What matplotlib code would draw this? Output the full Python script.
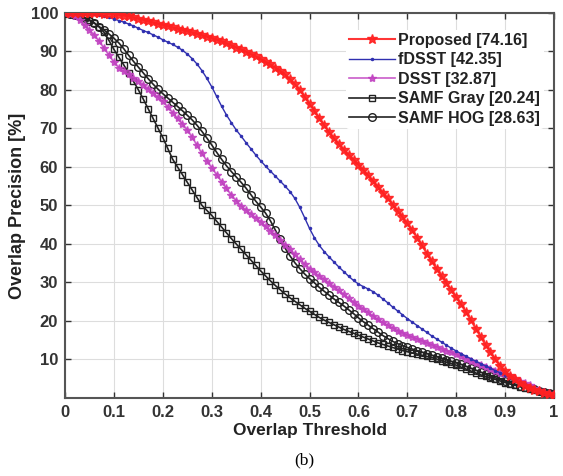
import matplotlib
matplotlib.use("Agg")
import matplotlib.pyplot as plt
import numpy as np

# overlap thresholds 0:0.01:1
thresholds = np.round(np.arange(0, 101) / 100, 2)

proposed = [
    100, 100, 100, 100, 100, 100, 99.9, 99.9, 99.8, 99.8,
    99.7, 99.5, 99.3, 99.1, 98.8, 98.5, 98.2, 97.8, 97.5, 97.1,
    96.8, 96.5, 96.2, 95.9, 95.6, 95.2, 94.9, 94.5, 94.2, 93.8,
    93.5, 93.0, 92.6, 92.1, 91.6, 91.0, 90.5, 89.9, 89.3, 88.7,
    88.0, 87.3, 86.6, 85.8, 84.9, 84.0, 82.8, 81.5, 80.0, 78.2,
    76.3, 74.5, 72.6, 70.8, 69.0, 67.4, 65.9, 64.5, 63.2, 61.9,
    60.6, 59.2, 57.8, 56.3, 54.8, 53.3, 51.8, 50.2, 48.6, 47.0,
    45.3, 43.5, 41.6, 39.6, 37.5, 35.5, 33.5, 31.6, 29.8, 28.0,
    26.2, 24.3, 22.3, 20.2, 18.0, 15.9, 13.8, 11.8, 10.0, 8.4,
    7.0, 5.8, 4.8, 3.9, 3.2, 2.6, 2.1, 1.7, 1.3, 1.0, 0.8,
]
fdsst = [
    100, 100, 99.9, 99.9, 99.8, 99.7, 99.6, 99.4, 99.2, 98.8,
    98.4, 98.0, 97.6, 97.1, 96.6, 96.0, 95.4, 94.9, 94.3, 93.7,
    93.0, 92.4, 91.8, 91.1, 90.3, 89.3, 88.1, 86.7, 85.0, 83.0,
    80.8, 78.3, 75.8, 73.5, 71.5, 69.6, 68.0, 66.3, 64.7, 63.1,
    61.6, 60.2, 58.9, 57.6, 56.3, 55.0, 53.6, 51.8, 49.5, 46.8,
    44.0, 41.6, 39.6, 38.0, 36.6, 35.3, 34.0, 32.8, 31.6, 30.5,
    29.6, 28.9, 28.3, 27.6, 26.7, 25.7, 24.7, 23.6, 22.6, 21.6,
    20.6, 19.7, 18.8, 17.9, 17.0, 16.1, 15.3, 14.5, 13.7, 12.9,
    12.2, 11.5, 10.8, 10.2, 9.5, 8.9, 8.3, 7.7, 7.1, 6.5,
    5.9, 5.3, 4.7, 4.1, 3.5, 2.9, 2.3, 1.7, 1.2, 0.8, 0.5,
]
dsst = [
    100, 99.6, 99.1, 98.2, 96.8, 95.5, 94.2, 92.6, 90.8, 89.0,
    87.2, 85.8, 84.8, 84.0, 83.2, 82.3, 81.3, 80.3, 79.2, 78.1,
    77.0, 75.6, 74.1, 72.6, 71.1, 69.6, 67.7, 65.6, 63.5, 61.6,
    59.8, 58.0, 56.2, 54.4, 52.7, 51.2, 49.9, 48.8, 47.8, 46.8,
    45.8, 44.6, 43.4, 42.2, 41.0, 39.8, 38.6, 37.3, 36.0, 34.8,
    33.6, 32.6, 31.7, 30.8, 29.9, 28.9, 27.9, 26.9, 25.9, 24.9,
    24.0, 23.1, 22.2, 21.3, 20.4, 19.6, 18.9, 18.2, 17.5, 16.9,
    16.3, 15.8, 15.3, 14.8, 14.3, 13.8, 13.3, 12.8, 12.3, 11.8,
    11.3, 10.8, 10.2, 9.7, 9.1, 8.6, 8.1, 7.6, 7.1, 6.6,
    6.1, 5.6, 5.0, 4.5, 3.9, 3.3, 2.7, 2.1, 1.6, 1.2, 0.9,
]
samf_gray = [
    100, 99.8, 99.5, 99.2, 98.8, 98.2, 97.4, 96.3, 94.9, 92.8,
    90.5, 88.5, 86.5, 84.4, 82.2, 80.0, 77.6, 75.1, 72.6, 70.1,
    67.6, 64.8, 62.0, 60.0, 58.0, 56.0, 54.0, 52.0, 50.0, 48.7,
    47.4, 45.9, 44.4, 42.9, 41.4, 40.0, 38.6, 37.2, 35.8, 34.4,
    33.0, 31.7, 30.4, 29.2, 28.1, 27.0, 26.0, 25.1, 24.2, 23.3,
    22.5, 21.7, 20.9, 20.2, 19.6, 19.0, 18.4, 17.8, 17.3, 16.8,
    16.3, 15.8, 15.3, 14.8, 14.3, 13.9, 13.5, 13.1, 12.7, 12.3,
    12.0, 11.7, 11.4, 11.1, 10.8, 10.5, 10.1, 9.7, 9.3, 8.9,
    8.5, 8.0, 7.5, 7.0, 6.5, 6.0, 5.6, 5.2, 4.8, 4.4,
    4.0, 3.6, 3.3, 2.9, 2.6, 2.3, 2.0, 1.7, 1.4, 1.2, 1.0,
]
samf_hog = [
    100, 99.8, 99.5, 99.1, 98.6, 98.0, 97.3, 96.4, 95.5, 94.5,
    93.4, 92.2, 90.7, 89.0, 87.4, 85.9, 84.4, 82.9, 81.5, 80.2,
    79.0, 77.9, 76.8, 75.7, 74.6, 73.4, 72.2, 70.8, 69.2, 67.5,
    65.7, 63.8, 62.0, 60.3, 58.8, 57.4, 56.0, 54.5, 52.8, 51.1,
    49.6, 48.0, 46.0, 43.6, 41.2, 38.9, 36.9, 35.1, 33.6, 32.2,
    31.0, 29.9, 28.7, 27.7, 26.7, 25.7, 24.8, 23.9, 22.9, 21.9,
    20.8, 19.8, 18.9, 18.0, 17.1, 16.2, 15.4, 14.7, 14.1, 13.6,
    13.1, 12.7, 12.3, 11.9, 11.5, 11.1, 10.7, 10.3, 9.9, 9.5,
    9.1, 8.7, 8.2, 7.7, 7.2, 6.7, 6.2, 5.7, 5.2, 4.8,
    4.4, 4.0, 3.6, 3.2, 2.8, 2.5, 2.2, 1.9, 1.6, 1.3, 1.0,
]

labels = ["Proposed [74.16]", "fDSST [42.35]", "DSST [32.87]",
          "SAMF Gray [20.24]", "SAMF HOG [28.63]"]

plt.rcParams["font.family"] = ["Liberation Sans", "DejaVu Sans"]

fig = plt.figure(figsize=(5.63, 4.76), dpi=100)
ax = fig.add_axes([0.1155, 0.164, 0.8686, 0.809])

# draw back-to-front so the red curve sits on top
ax.plot(thresholds, samf_hog, color="#222222", lw=1.2, marker="o", ms=5.5,
        mfc="none", mec="#222222", mew=1.0, label=labels[4], zorder=3)
ax.plot(thresholds, samf_gray, color="#222222", lw=1.2, marker="s", ms=5,
        mfc="none", mec="#222222", mew=1.0, label=labels[3], zorder=3)
ax.plot(thresholds, dsst, color="#c040c0", lw=1.2, marker="*", ms=6,
        mec="#c040c0", label=labels[2], zorder=4, alpha=0.85)
ax.plot(thresholds, fdsst, color="#3030b0", lw=1.0, marker=".", ms=3,
        label=labels[1], zorder=5)
ax.plot(thresholds, proposed, color="#ff2020", lw=1.5, marker="*", ms=7.5,
        mec="#ff2020", label=labels[0], zorder=6, alpha=0.9)

ax.set_xlim(0, 1)
ax.set_ylim(0, 100)
ax.set_xticks(np.round(np.arange(0, 11) / 10, 1))
ax.set_xticklabels(["0"] + [f"{v / 10:.1f}" for v in range(1, 10)] + ["1"])
ax.set_yticks(range(10, 101, 10))
ax.grid(True, color="#dddddd", lw=0.8)
ax.set_axisbelow(True)
ax.tick_params(direction="in", top=True, right=True, length=4,
               labelsize=12, colors="#333333", width=1, pad=5)
for lbl in ax.get_xticklabels() + ax.get_yticklabels():
    lbl.set_fontweight("bold")
for sp in ax.spines.values():
    sp.set_color("#555555")
    sp.set_linewidth(1.5)

ax.set_xlabel("Overlap Threshold", fontsize=12.5, fontweight="bold",
              color="#222222", labelpad=2)
ax.set_ylabel("Overlap Precision [%]", fontsize=13, fontweight="bold",
              color="#222222", labelpad=3)

handles, lbls = ax.get_legend_handles_labels()
order = [4, 3, 2, 1, 0]
leg = ax.legend([handles[i] for i in order], [lbls[i] for i in order],
                loc="upper right", bbox_to_anchor=(0.985, 0.965),
                prop={"weight": "bold", "size": 11.5}, frameon=True,
                handlelength=2.9, handletextpad=0.2, labelspacing=0.28,
                borderaxespad=0.2, borderpad=0.2)
leg.get_frame().set_edgecolor("none")
leg.get_frame().set_facecolor("white")
leg.get_frame().set_alpha(1.0)
for txt in leg.get_texts():
    txt.set_color("#222222")

fig.text(0.54, 0.032, "(b)", ha="center", va="center", fontsize=12.5,
         family=["Liberation Serif", "DejaVu Serif"])

fig.savefig("out.png", dpi=100)
